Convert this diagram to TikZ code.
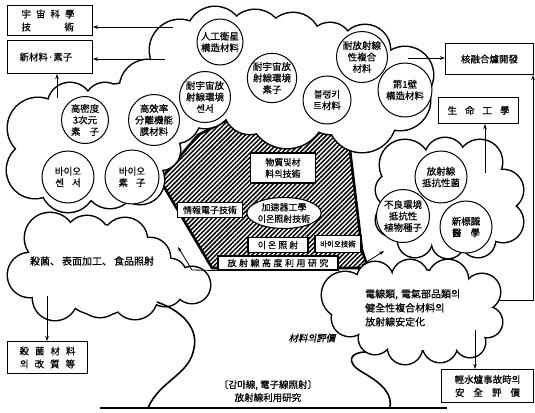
\documentclass[tikz,border=0pt]{standalone}
\usepackage{fontspec}
\setmainfont{Noto Sans CJK KR}[FakeBold=0.5]
\newfontfamily\kr[FakeBold=0.5]{Noto Sans CJK KR}
\newfontfamily\krslant[FakeSlant=0.2,FakeBold=0.5]{Noto Sans CJK KR}
\usetikzlibrary{arrows.meta,patterns.meta,shapes.geometric}
\newcommand\cloudunion[1]{%
  \foreach \qx/\qy/\qr in {#1} {\draw[line width=3pt] (\qx,\qy) circle[radius=\qr pt];}%
  \foreach \qx/\qy/\qr in {#1} {\fill[white] (\qx,\qy) circle[radius=\qr pt];}}
\begin{document}
\begin{tikzpicture}[x=1pt,y=-1pt,
  every node/.style={font=\kr\fontsize{9.5}{11.5}\selectfont, inner sep=0pt},
  lbl/.style={circle, draw, line width=1pt, fill=white, align=center, minimum size=#1},
  tbox/.style={draw, line width=1pt, fill=white, anchor=north west, font=\kr\fontsize{9.5}{13}\selectfont},
  ttag/.style={draw, line width=1.1pt, fill=white, align=center, font=\kr\fontsize{9}{11.5}\selectfont},
  arr/.style={-{Stealth[length=5pt,width=3.6pt]}, line width=0.8pt},
  stem/.style={line width=1.6pt},
]
\useasboundingbox (0,0) rectangle (535,412);
\fill[white] (0,0) rectangle (535,412);

% hatched trunk region
\path[pattern={Lines[angle=45,distance=3.2pt,line width=1.5pt]}, draw, line width=2.6pt, line join=round]
 (160,180) -- (198,135) -- (235,116) -- (330,116) -- (350,150) -- (356,200) -- (362,250) -- (368,268) -- (212,268) -- cycle;

% crown cloud
\cloudunion{38/128/30, 70/105/22, 105/103/20, 148/88/28, 35/170/28, 68/185/27, 110/183/25, 140/180/24, 160/150/20,
  95/150/50, 175/118/25, 180/50/30, 215/35/28, 255/38/28, 293/40/27, 330/45/22, 365/50/25, 405/75/28, 400/100/30,
  362/118/34, 287/110/38, 205/100/28, 290/75/50, 230/75/40, 340/80/40,
  120/108/24, 185/85/26, 60/150/30, 130/150/30, 250/108/26, 330/108/26, 380/80/26, 160/120/22}
% right cloud
\cloudunion{405/165/25, 445/158/20, 480/162/22, 503/190/20, 503/222/20, 478/240/17, 448/242/16, 415/240/17,
  392/220/16, 392/190/16, 450/200/45, 415/205/22, 485/205/22}
% electrical cloud
\cloudunion{345/295/23, 375/280/18, 410/278/18, 448/280/20, 482/292/18, 487/322/15, 470/342/15, 440/345/17,
  405/347/17, 375/338/16, 350/318/18, 420/310/40, 385/312/28, 460/315/28}
% lower left cloud
\cloudunion{50/238/25, 87/238/22, 125/240/22, 150/258/20, 30/275/22, 55/298/22, 100/295/22, 135/297/22,
  165/288/18, 192/285/18, 100/270/45, 60/270/26, 140/272/26, 170/275/16}

% trunk and ground
\draw[stem] (157,302) .. controls (185,312) and (198,330) .. (194,348) .. controls (190,375) and (160,380) .. (148,408);
\draw[stem] (366,352) .. controls (350,352) and (345,362) .. (362,372) .. controls (385,385) and (392,395) .. (390,408);
\draw[line width=1.8pt] (100,408) -- (447,408);

% labelled circles in the crown
\node[lbl=46pt] (cA) at (220,42) {人工衛星\\構造材料};
\node[lbl=51pt] (cB) at (205,97) {耐宇宙放\\射線環境\\센서};
\node[lbl=49pt] (cC) at (272,78) {耐宇宙放\\射線環境\\素子};
\node[lbl=48pt] (cD) at (327,100) {블랭키\\트材料};
\node[lbl=51pt] (cE) at (362,57) {耐放射線\\性複合\\材料};
\node[lbl=54pt] (cF) at (405,90) {第1壁\\構造材料};
\node[lbl=47pt] (cG) at (85,120) {高密度\\3次元\\素\hspace{9pt}子};
\node[lbl=51pt] (cH) at (154,120) {高效率\\分離機能\\膜材料};
\node[lbl=52pt] (cI) at (68,177) {바이오\\센\hspace{8pt}서};
\node[lbl=54pt] (cJ) at (132,177) {바이오\\素\hspace{8pt}子};
% right cloud circles
\node[lbl=52pt] (cK) at (441,177) {放射線\\抵抗性菌};
\node[lbl=53pt] (cL) at (403,216) {不良環境\\抵抗性\\植物種子};
\node[lbl=52pt] (cM) at (466,227) {新標識\\醫\hspace{9pt}學};

% trunk labels
\node[ttag, minimum width=65pt, minimum height=30pt] (t1) at (283,168) {物質및材\\料의技術};
\node[ttag, minimum width=65pt, minimum height=15pt] (t2) at (210,210) {情報電子技術};
\node[ttag, ellipse, minimum width=70pt, minimum height=31pt] (t3) at (284,213) {加速器工學\\이온照射技術};
\node[ttag, minimum width=60pt, minimum height=15pt] (t4) at (278,245) {이\hspace{2pt}온\hspace{2pt}照\hspace{2pt}射};
\node[ttag, minimum width=46pt, minimum height=17pt, font=\kr\fontsize{7.5}{9}\selectfont] (t5) at (338,244) {바이오技術};
\node[ttag, minimum width=120pt, minimum height=14pt] (t6) at (278,263) {放\hspace{2.5pt}射\hspace{2.5pt}線\hspace{2.5pt}高\hspace{2.5pt}度\hspace{2.5pt}利\hspace{2.5pt}用\hspace{2.5pt}研\hspace{2.5pt}究};

% cloud texts
\node[font=\kr\fontsize{10}{12}\selectfont] (tl) at (92,261) {殺菌、\hspace{2pt}表面加工、\hspace{2pt}食品照射};
\node[font=\kr\fontsize{10}{14}\selectfont, align=left, anchor=north west] (te) at (365,289) {電線類,\hspace{3pt}電氣部品類의\\健全性複合材料의\\放射線安定化};
\node[font=\krslant\fontsize{9.5}{11}\selectfont] (tm) at (312,338) {材料의評價};
\node[font=\kr\fontsize{9.5}{13}\selectfont, align=center] (tb) at (268,391) {〔감마線,\hspace{2pt}電子線照射〕\\放射線利用研究};

% outer boxes
\node[tbox, minimum width=85pt, minimum height=30pt, inner xsep=14pt, text width=57pt, align=left] (b1) at (7,5)
  {宇\hspace{5pt}宙\hspace{5pt}科\hspace{5pt}學\\技\hspace{33.5pt}術};
\node[tbox, minimum width=85pt, minimum height=33pt, inner xsep=12pt, text width=61pt, align=left] (b2) at (7,40) {新材料·素子};
\node[tbox, minimum width=88pt, minimum height=31pt, align=center] (b3) at (445,43) {核融合爐開發};
\node[tbox, minimum width=80pt, minimum height=26pt, align=center] (b4) at (438,97) {生\hspace{8pt}命\hspace{8pt}工\hspace{8pt}學};
\node[tbox, minimum width=80pt, minimum height=32pt, align=center] (b5) at (7,341)
  {殺\hspace{6pt}菌\hspace{6pt}材\hspace{6pt}料\\의\hspace{6pt}改\hspace{6pt}質\hspace{6pt}等};
\node[tbox, minimum width=92pt, minimum height=33pt, align=center] (b6) at (441,369)
  {輕水爐事故時의\\安\hspace{9pt}全\hspace{9pt}評\hspace{9pt}價};

% arrows
\coordinate (a1) at (173,27);
\draw[arr] (a1) -- (a1 -| b1.east);
\coordinate (a2) at (165,59);
\draw[arr] (a2) -- (a2 -| b2.east);
\coordinate (a3) at (57,98);
\draw[arr] (a3) -- (a3 |- b2.south);
\coordinate (a4) at (408,58);
\draw[arr] (a4) -- (a4 -| b3.west);
\coordinate (a5) at (485,173);
\draw[arr] (a5) -- (a5 |- b4.south);
\coordinate (a6) at (499,300);
\coordinate (a6b) at (533,300);
\draw[arr] (a6) -- (a6b) -- (a6b |- b3.south);
\coordinate (a7) at (475,330);
\draw[arr] (a7) -- (a7 |- b6.north);
\coordinate (a8) at (47,296);
\draw[arr] (a8) -- (a8 |- b5.north);
\coordinate (a9) at (192,270);
\coordinate (a9e) at (178,247);
\draw[arr] (t6.south west) -- (a9) -- (a9e);
\coordinate (a10s) at (362,265);
\coordinate (a10e) at (384,251);
\draw[arr] (a10s) -- (a10e);
\end{tikzpicture}
\end{document}
